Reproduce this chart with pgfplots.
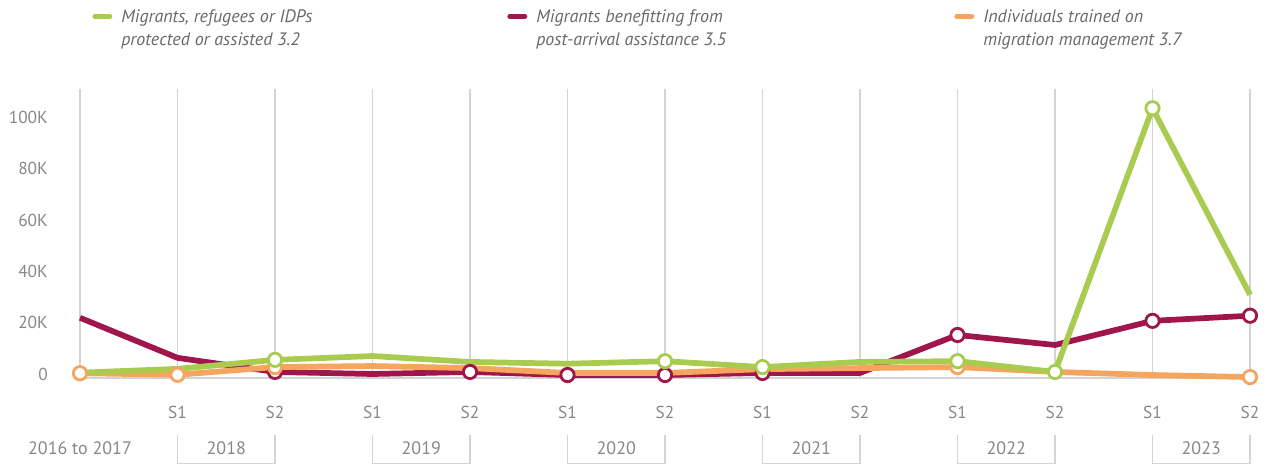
\documentclass[border=0pt]{standalone}
\usepackage{pgfplots}
\pgfplotsset{compat=1.18}
\usepackage{fontspec}
\setmainfont{PT Sans}
\definecolor{cgreen}{RGB}{169,204,80}
\definecolor{cmaroon}{RGB}{160,21,75}
\definecolor{corange}{RGB}{245,165,94}
\definecolor{cgrid}{RGB}{212,212,212}
\definecolor{ctick}{RGB}{135,135,135}
\definecolor{clegend}{RGB}{105,105,105}

\pgfplotstableread{
x green maroon orange
0 500 21900 300
1 2000 6300 -300
2 5500 800 2700
3 7000 0 3100
4 4700 800 2300
5 4000 -400 400
6 5000 -400 400
7 2700 400 1900
8 4700 400 2300
9 5000 15200 2700
10 800 11300 800
11 103500 20700 -400
12 30900 22700 -1200
}\datatable

\pgfplotstableread{
x y
2 5500
6 5000
7 2700
9 5000
10 800
11 103500
}\greenmarks

\pgfplotstableread{
x y
2 800
4 800
5 -400
6 -400
7 400
9 15200
11 20700
12 22700
}\maroonmarks

\pgfplotstableread{
x y
0 300
1 -300
2 2700
9 2700
12 -1200
}\orangemarks

\begin{document}
\begin{tikzpicture}
\path[use as bounding box] (0,0) rectangle (951pt,-348pt);
\begin{axis}[
  at={(60pt,-283.5pt)}, anchor=south west,
  scale only axis, width=877.5pt, height=216.75pt,
  xmin=0, xmax=12, ymin=-1560, ymax=111000,
  scaled y ticks=false,
  axis lines*=left,
  x axis line style={draw=cgrid, line width=1pt},
  y axis line style={draw=none},
  xtick={0,...,12},
  xticklabels={{},S1,S2,S1,S2,S1,S2,S1,S2,S1,S2,S1,S2},
  xmajorgrids, major grid style={cgrid, line width=1pt},
  ytick={0,20000,40000,60000,80000,100000},
  yticklabels={0,20K,40K,60K,80K,100K},
  major tick length=0pt,
  tick label style={font=\fontsize{13}{15}\selectfont, text=ctick},
  yticklabel style={anchor=east, inner sep=0pt, xshift=-24pt},
  xticklabel style={anchor=center, inner sep=0pt, yshift=-25.5pt},
  clip=false,
  legend columns=3,
  legend cell align=left,
  legend style={draw=none, fill=none, at={(0.0103,1.2745)}, anchor=north west,
    inner sep=0pt, nodes={inner sep=0pt, text=clegend},
    /tikz/every odd column/.style={column sep=0pt},
    /tikz/every even column/.style={column sep=0pt}},
  legend image code/.code={%
    \path[draw=none, fill=none] (0pt,0pt) rectangle (21.75pt,0.1pt);
    \draw[#1, line width=3.75pt, line cap=round] (1.9pt,0.7pt) -- (13.1pt,0.7pt);},
]
\addlegendimage{cgreen}
\addlegendentry{\parbox[t]{289.5pt}{\fontsize{13.5}{17.4}\selectfont\itshape Migrants, refugees or IDPs\\protected or assisted 3.2}}
\addlegendimage{cmaroon}
\addlegendentry{\parbox[t]{313.5pt}{\fontsize{13.5}{17.4}\selectfont\itshape Migrants benefitting from\\post-arrival assistance 3.5}}
\addlegendimage{corange}
\addlegendentry{\parbox[t]{200pt}{\fontsize{13.5}{17.4}\selectfont\itshape Individuals trained on\\migration management 3.7}}

\addplot[cmaroon, line width=4.3pt, line join=round, mark=none, forget plot] table[x=x, y=maroon] {\datatable};
\addplot[corange, line width=4.3pt, line join=round, mark=none, forget plot] table[x=x, y=orange] {\datatable};
\addplot[cgreen, line width=4.3pt, line join=round, mark=none, forget plot] table[x=x, y=green] {\datatable};

\addplot[only marks, mark=*, mark size=5pt, draw=cmaroon, fill=white, line width=2.1pt, mark options={draw=cmaroon, fill=white, line width=2.1pt}, forget plot] table[x=x, y=y] {\maroonmarks};
\addplot[only marks, mark=*, mark size=5pt, draw=corange, fill=white, line width=2.1pt, mark options={draw=corange, fill=white, line width=2.1pt}, forget plot] table[x=x, y=y] {\orangemarks};
\addplot[only marks, mark=*, mark size=5pt, draw=cgreen, fill=white, line width=2.1pt, mark options={draw=cgreen, fill=white, line width=2.1pt}, forget plot] table[x=x, y=y] {\greenmarks};

\foreach \i in {0,...,12} {
  \edef\temp{\noexpand\coordinate (X\i) at (axis cs:\i,0);}
  \temp
}
\end{axis}
\foreach \a/\b/\yr in {1/2/2018,3/4/2019,5/6/2020,7/8/2021,9/10/2022,11/12/2023} {
  \draw[cgrid, line width=1pt] (X\a |- 0,-326.25pt) -- (X\a |- 0,-347.5pt) -- (X\b |- 0,-347.5pt) -- (X\b |- 0,-326.25pt);
  \path (X\a |- 0,-336pt) -- node[text=ctick, font=\fontsize{13.5}{15}\selectfont, inner sep=0pt] {\yr} (X\b |- 0,-336pt);
}
\node[text=ctick, font=\fontsize{13.5}{15}\selectfont, inner sep=0pt] at (X0 |- 0,-336pt) {2016 to 2017};
\end{tikzpicture}
\end{document}
